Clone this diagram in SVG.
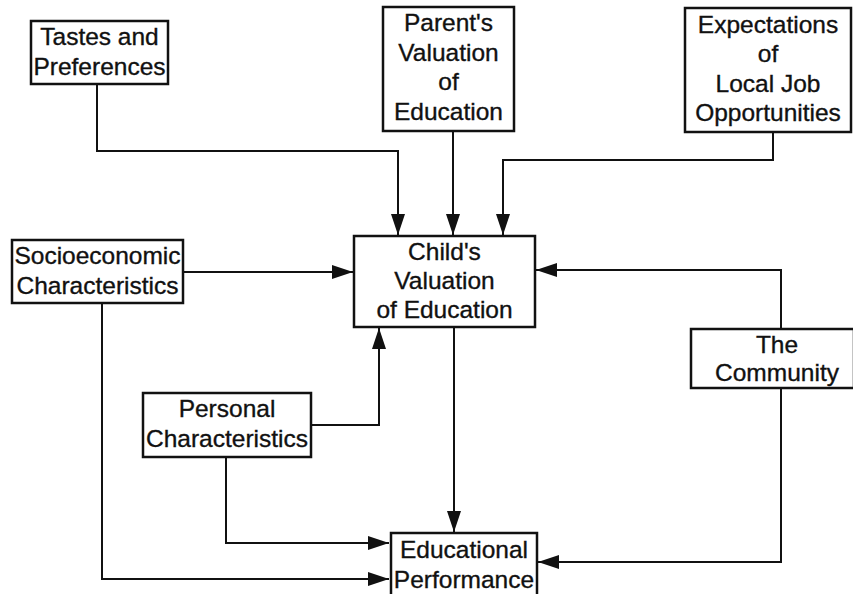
<svg xmlns="http://www.w3.org/2000/svg" width="853" height="594" viewBox="0 0 853 594">
<style>
.box{fill:#fff;stroke:#111;stroke-width:2.5}
.t{font-family:"Liberation Sans",Arial,sans-serif;font-size:24.5px;fill:#111;stroke:#111;stroke-width:0.35;text-anchor:middle}
.c{fill:none;stroke:#111;stroke-width:2}
</style>
<defs>
<marker id="ah" markerUnits="userSpaceOnUse" markerWidth="22" markerHeight="16" refX="21" refY="7" orient="auto">
<path d="M0,0 L21,7 L0,14 Z" fill="#111"/>
</marker>
</defs>
<rect width="853" height="594" fill="#fff"/>
<g id="connectors">
<path class="c" d="M97,84 V151 H398 V235" marker-end="url(#ah)"/>
<path class="c" d="M453,131 V235" marker-end="url(#ah)"/>
<path class="c" d="M773,132 V160 H503 V235" marker-end="url(#ah)"/>
<path class="c" d="M183,272 H353" marker-end="url(#ah)"/>
<path class="c" d="M781,329 V270 H536" marker-end="url(#ah)"/>
<path class="c" d="M311,425 H379 V328" marker-end="url(#ah)"/>
<path class="c" d="M454,327 V532" marker-end="url(#ah)"/>
<path class="c" d="M226,457 V543 H389" marker-end="url(#ah)"/>
<path class="c" d="M102,303 V579 H389" marker-end="url(#ah)"/>
<path class="c" d="M781,388 V562 H538" marker-end="url(#ah)"/>
</g>
<g id="tastes">
<rect class="box" x="31" y="21" width="137" height="63"/>
<text class="t" x="99.5" y="45">Tastes and</text>
<text class="t" x="99.5" y="75">Preferences</text>
</g>
<g id="parent">
<rect class="box" x="383" y="7" width="131" height="124"/>
<text class="t" x="448.5" y="31">Parent's</text>
<text class="t" x="448.5" y="61">Valuation</text>
<text class="t" x="448.5" y="90">of</text>
<text class="t" x="448.5" y="120">Education</text>
</g>
<g id="expectations">
<rect class="box" x="685" y="8" width="166" height="124"/>
<text class="t" x="768" y="33">Expectations</text>
<text class="t" x="768" y="62">of</text>
<text class="t" x="768" y="92">Local Job</text>
<text class="t" x="768" y="121">Opportunities</text>
</g>
<g id="child">
<rect class="box" x="354" y="236" width="181" height="91"/>
<text class="t" x="444.5" y="260">Child's</text>
<text class="t" x="444.5" y="289">Valuation</text>
<text class="t" x="444.5" y="318">of Education</text>
</g>
<g id="socio">
<rect class="box" x="12" y="240" width="171" height="63"/>
<text class="t" x="97.5" y="264">Socioeconomic</text>
<text class="t" x="97.5" y="294">Characteristics</text>
</g>
<g id="community">
<rect class="box" x="691" y="329" width="163" height="59"/>
<text class="t" x="777" y="353">The</text>
<text class="t" x="777" y="381">Community</text>
</g>
<g id="personal">
<rect class="box" x="143" y="393" width="168" height="64"/>
<text class="t" x="227" y="417">Personal</text>
<text class="t" x="227" y="447">Characteristics</text>
</g>
<g id="educational">
<rect class="box" x="391" y="533" width="146" height="70"/>
<text class="t" x="464" y="558">Educational</text>
<text class="t" x="464" y="588">Performance</text>
</g>
</svg>
